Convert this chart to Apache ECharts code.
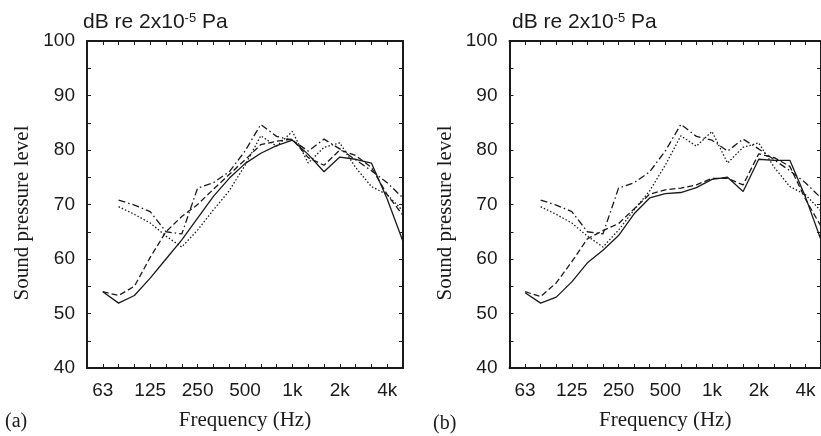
<!DOCTYPE html>
<html>
<head>
<meta charset="utf-8">
<script src="https://cdn.jsdelivr.net/npm/echarts@6/dist/echarts.min.js"></script>
<style>
html,body{margin:0;padding:0;background:#fff;}
#chart{width:821px;height:436px;}
</style>
</head>
<body>
<div id="chart"></div>
<script>
// third-octave bands, 50 Hz .. 5 kHz
var bands = ['50','63','80','100','125','160','200','250','315','400','500','630','800','1k','1.25k','1.6k','2k','2.5k','3.15k','4k','5k'];
var tickLabels = ['63','125','250','500','1k','2k','4k'];
var yTicks = [40,50,60,70,80,90,100];

// panel (a)
var solidA  = [null,54.0,51.9,53.3,56.5,60.0,63.5,67.5,71.5,74.8,77.5,79.4,80.8,81.8,79.2,76.0,78.7,78.3,77.6,71.0,63.2];
var dashedA = [null,54.0,53.3,55.0,60.3,65.0,67.8,70.0,72.8,75.5,78.2,81.0,81.6,82.0,78.6,77.2,80.0,79.0,76.8,71.8,68.0];
// panel (b)
var solidB  = [null,53.8,51.9,53.0,55.8,59.3,61.6,64.3,68.3,71.2,72.0,72.2,73.1,74.6,75.0,72.4,78.3,78.1,78.1,71.4,63.5];
var dashedB = [null,54.0,53.1,55.6,59.5,63.7,65.2,66.5,69.2,71.9,72.7,73.0,73.6,74.8,74.8,73.6,79.3,78.6,77.0,71.0,66.0];
// same in both panels
var dotted  = [null,null,69.6,68.2,66.6,64.2,62.2,65.3,69.0,72.5,77.2,82.6,80.7,83.4,77.6,80.5,81.3,76.8,73.3,71.8,68.8];
var dashDot = [null,null,70.8,69.9,68.7,65.0,64.6,73.0,74.0,76.0,79.8,84.7,82.5,81.8,79.8,82.0,80.2,78.2,76.2,74.0,71.2];

var sans = 'Liberation Sans, Arial, sans-serif';
var serif = 'Liberation Serif, Times New Roman, serif';
var ink = '#1a1a1a';

var chartDom = document.getElementById('chart');
var myChart = echarts.init(chartDom);

function xAxes(g){
  var base = {
    gridIndex: g,
    type: 'category',
    data: bands,
    boundaryGap: false,
    axisLine: { lineStyle: { color: ink, width: 2 } },
    axisTick: { inside: true, interval: 0, length: 4, lineStyle: { color: ink, width: 1 } },
    splitLine: { show: false }
  };
  var bottom = Object.assign({}, base, {
    position: 'bottom',
    axisLabel: {
      interval: function (i, v) { return tickLabels.indexOf(v) >= 0; },
      color: ink, fontSize: 19, fontFamily: sans, margin: 13
    },
    name: 'Frequency (Hz)',
    nameLocation: 'middle',
    nameGap: 42,
    nameTextStyle: { color: ink, fontSize: 21, fontFamily: serif }
  });
  var top = Object.assign({}, base, { position: 'top', axisLabel: { show: false } });
  return [bottom, top];
}

function yAxes(g){
  var base = {
    gridIndex: g,
    type: 'value',
    min: 40, max: 100, interval: 5,
    axisLine: { show: true, lineStyle: { color: ink, width: 2 } },
    axisTick: { show: true, inside: true, length: 4, lineStyle: { color: ink, width: 1 } },
    splitLine: { show: false }
  };
  var left = Object.assign({}, base, {
    position: 'left',
    axisLabel: {
      formatter: function (v) { return yTicks.indexOf(v) >= 0 ? String(v) : ''; },
      color: ink, fontSize: 19, fontFamily: sans, margin: 12
    }
  });
  var right = Object.assign({}, base, { position: 'right', axisLabel: { show: false } });
  return [left, right];
}

var styles = {
  solid:   'solid',
  dashed:  [6, 3],
  dotted:  [1.5, 2],
  dashDot: [7, 3, 1.5, 3]
};

function line(name, data, type, g){
  return {
    name: name,
    type: 'line',
    xAxisIndex: g * 2,
    yAxisIndex: g * 2,
    data: data,
    symbol: 'none',
    silent: true,
    lineStyle: { color: ink, width: 1.3, type: type }
  };
}

var titleRich = {
  a: { fontSize: 21, fontFamily: sans, color: ink, fontWeight: 'normal' },
  s: { fontSize: 13, fontFamily: sans, color: ink, fontWeight: 'normal', verticalAlign: 'top' }
};
var tagStyle = { fontSize: 20, fontFamily: serif, color: ink, fontWeight: 'normal' };

function yName(x){
  return {
    type: 'text',
    x: x, y: 213,
    rotation: Math.PI / 2,
    style: {
      text: 'Sound pressure level',
      font: '21px ' + serif,
      fill: ink,
      align: 'center',
      verticalAlign: 'middle'
    }
  };
}

var option = {
  animation: false,
  backgroundColor: '#fff',
  title: [
    { left: 83, top: 12, text: '{a|dB re 2x10}{s|-5}{a| Pa}', textStyle: { rich: titleRich }, padding: 0 },
    { left: 512, top: 12, text: '{a|dB re 2x10}{s|-5}{a| Pa}', textStyle: { rich: titleRich }, padding: 0 },
    { left: 5, top: 412, text: '(a)', textStyle: tagStyle, padding: 0 },
    { left: 433, top: 414, text: '(b)', textStyle: tagStyle, padding: 0 }
  ],
  graphic: [yName(22), yName(445)],
  grid: [
    { left: 87, top: 41, width: 316, height: 329 },
    { left: 509.5, top: 41, width: 316, height: 329 }
  ],
  xAxis: xAxes(0).concat(xAxes(1)),
  yAxis: yAxes(0).concat(yAxes(1)),
  series: [
    line('solid', solidA, styles.solid, 0),
    line('dashed', dashedA, styles.dashed, 0),
    line('dotted', dotted, styles.dotted, 0),
    line('dash-dot', dashDot, styles.dashDot, 0),
    line('solid', solidB, styles.solid, 1),
    line('dashed', dashedB, styles.dashed, 1),
    line('dotted', dotted, styles.dotted, 1),
    line('dash-dot', dashDot, styles.dashDot, 1)
  ]
};

option && myChart.setOption(option);
</script>
</body>
</html>
